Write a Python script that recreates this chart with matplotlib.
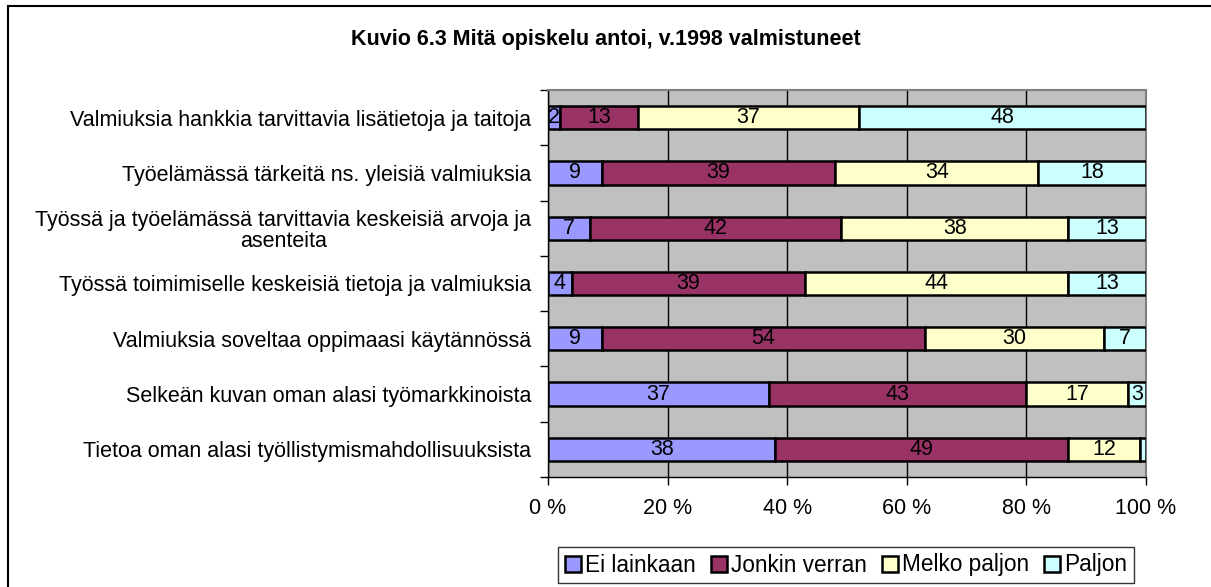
import matplotlib
matplotlib.use("Agg")
import matplotlib.pyplot as plt
from matplotlib.lines import Line2D

plt.rcParams['font.family'] = ['Liberation Sans', 'DejaVu Sans']

categories = [
    "Valmiuksia hankkia tarvittavia lisätietoja ja taitoja",
    "Työelämässä tärkeitä ns. yleisiä valmiuksia",
    "Työssä ja työelämässä tarvittavia keskeisiä arvoja ja\nasenteita",
    "Työssä toimimiselle keskeisiä tietoja ja valmiuksia",
    "Valmiuksia soveltaa oppimaasi käytännössä",
    "Selkeän kuvan oman alasi työmarkkinoista",
    "Tietoa oman alasi työllistymismahdollisuuksista",
]
series_names = ["Ei lainkaan", "Jonkin verran", "Melko paljon", "Paljon"]
ei_lainkaan = [2, 9, 7, 4, 9, 37, 38]
jonkin_verran = [13, 39, 42, 39, 54, 43, 49]
melko_paljon = [37, 34, 38, 44, 30, 17, 12]
paljon = [48, 18, 13, 13, 7, 3, 1]
colors = ["#9999FF", "#993366", "#FFFFCC", "#CCFFFF"]
xticks = [0, 20, 40, 60, 80, 100]
xticklabels = ["0 %", "20 %", "40 %", "60 %", "80 %", "100 %"]
title = "Kuvio 6.3 Mitä opiskelu antoi, v.1998 valmistuneet"

FS = 15.5

fig = plt.figure(figsize=(12.11, 5.87), dpi=100)
ax = fig.add_axes([548/1211, 1-477/587, (1146-548)/1211, (477-90)/587])
ax.set_facecolor("#C0C0C0")

n = len(categories)
ypos = list(range(n))
data = [ei_lainkaan, jonkin_verran, melko_paljon, paljon]
left = [0]*n
for vals, col, name in zip(data, colors, series_names):
    ax.barh(ypos, vals, left=left, height=0.42, color=col,
            edgecolor="black", linewidth=1.8, label=name, zorder=3)
    for y, v, l in zip(ypos, vals, left):
        if v >= 2:
            ax.text(l + v/2, y, str(v), ha="center", va="center",
                    fontsize=FS, zorder=4)
    left = [a + b for a, b in zip(left, vals)]

ax.set_xlim(0, 100)
ax.set_ylim(n - 0.5, -0.5)
ax.set_xticks(xticks)
ax.set_xticklabels(xticklabels, fontsize=FS)
ax.set_yticks(ypos)
ax.set_yticklabels(categories, fontsize=FS, multialignment="center", linespacing=1.0)
ax.tick_params(axis="y", which="major", length=0, pad=12)
ax.set_yticks([i - 0.5 for i in range(n + 1)], minor=True)
ax.tick_params(axis="y", which="minor", length=6, width=1, color="black", direction="out")
ax.tick_params(axis="x", which="major", length=6, width=1, color="black", direction="out", pad=9)
ax.grid(axis="x", color="black", linewidth=1, zorder=1)
ax.set_axisbelow(True)
for s in ["top", "right"]:
    ax.spines[s].set_color("#808080")
    ax.spines[s].set_linewidth(1.5)
ax.spines["left"].set_color("black")
ax.spines["bottom"].set_color("black")
ax.spines["left"].set_linewidth(1)
ax.spines["bottom"].set_linewidth(1)

fig.text(606/1211, 1-40/587, title, ha="center", va="center",
         fontsize=FS, fontweight="bold")

leg = fig.legend(loc="center", bbox_to_anchor=(846/1211, 1-565/587), ncol=4,
                 fontsize=16.3, frameon=True, fancybox=False, edgecolor="black",
                 handlelength=0.72, handleheight=0.72, handletextpad=0.18,
                 columnspacing=0.65, borderpad=0.3, borderaxespad=0)
leg.get_frame().set_linewidth(1)

# outer chart border (left and top)
fig.add_artist(Line2D([8/1211, 8/1211], [0, 1-6/587], color="black", linewidth=1.5,
                      transform=fig.transFigure))
fig.add_artist(Line2D([8/1211, 1], [1-6/587, 1-6/587], color="black", linewidth=1.5,
                      transform=fig.transFigure))

fig.savefig("out.png", dpi=100)
